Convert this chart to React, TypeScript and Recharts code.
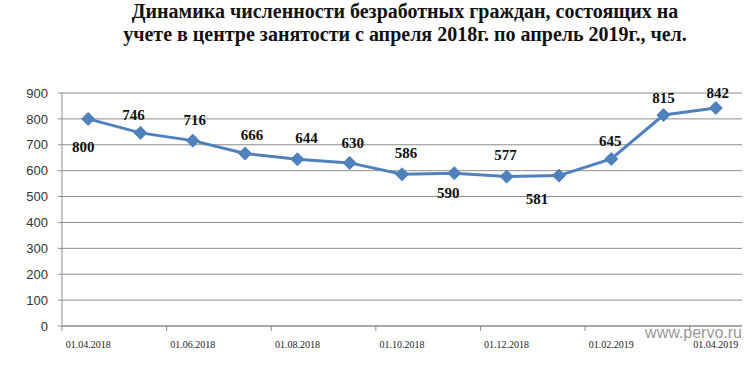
import { CartesianGrid, LabelList, Line, LineChart, XAxis, YAxis } from "recharts";

const dates = [
  "01.04.2018", "01.05.2018", "01.06.2018", "01.07.2018", "01.08.2018", "01.09.2018",
  "01.10.2018", "01.11.2018", "01.12.2018", "01.01.2019", "01.02.2019", "01.03.2019",
  "01.04.2019",
];
const unemployed = [800, 746, 716, 666, 644, 630, 586, 590, 577, 581, 645, 815, 842];
const yTicks = [0, 100, 200, 300, 400, 500, 600, 700, 800, 900];

// where each value label sits relative to its point
const labelShift: [number, number][] = [
  [-5, 28], [-7, -18], [2, -21], [7, -19], [9, -22], [3, -20], [4, -22],
  [-6, 19], [-1, -22], [-22, 23], [-1, -18], [0, -17], [2, -15],
];

const data = dates.map((d, i) => ({ date: d, value: unemployed[i] }));

const BLUE = "#4f81bd";
const GRID = "#8c8c8c";
const HALF_BAND = 26.15;

const Diamond = (props: any) => {
  const { cx, cy } = props;
  const r = 6.5;
  return (
    <polygon
      points={`${cx},${cy - r} ${cx + r},${cy} ${cx},${cy + r} ${cx - r},${cy}`}
      fill={BLUE}
      stroke={BLUE}
    />
  );
};

const DateTick = (props: any) => {
  const { x, y, payload } = props;
  return (
    <g>
      <line x1={x - HALF_BAND} x2={x - HALF_BAND} y1={y} y2={y + 5} stroke={GRID} />
      <text
        x={x}
        y={y + 22}
        textAnchor="middle"
        fontFamily="'Liberation Serif', serif"
        fontSize={10}
        fill="#222"
      >
        {payload.value}
      </text>
    </g>
  );
};

const ValueLabel = (props: any) => {
  const { x, y, value, index } = props;
  const [dx, dy] = labelShift[index] ?? [0, -18];
  return (
    <text
      x={x + dx}
      y={y + dy}
      dy="0.35em"
      textAnchor="middle"
      fontFamily="'Liberation Serif', serif"
      fontWeight="bold"
      fontSize={15}
      fill="#111"
    >
      {value}
    </text>
  );
};

export default function App() {
  return (
    <div
      style={{
        position: "absolute",
        left: 0,
        top: 0,
        width: 752,
        height: 382,
        background: "#fff",
      }}
    >
      <div
        style={{
          position: "absolute",
          left: 0,
          top: 0,
          width: 810,
          textAlign: "center",
          fontFamily: "'Liberation Serif', serif",
          fontWeight: "bold",
          fontSize: 20,
          lineHeight: "23px",
          color: "#111",
        }}
      >
        Динамика численности безработных граждан, состоящих на
        <br />
        учете в центре занятости с апреля 2018г. по апрель 2019г., чел.
      </div>
      <LineChart
        width={752}
        height={382}
        data={data}
        margin={{ top: 93, right: 10, bottom: 26, left: 12 }}
      >
        <CartesianGrid vertical={false} stroke={GRID} />
        <XAxis
          dataKey="date"
          interval={1}
          padding={{ left: HALF_BAND, right: HALF_BAND }}
          axisLine={{ stroke: GRID }}
          tickLine={false}
          tickSize={0}
          tickMargin={0}
          height={30}
          tick={<DateTick />}
        />
        <YAxis
          domain={[0, 900]}
          ticks={yTicks}
          width={50}
          axisLine={{ stroke: GRID }}
          tickLine={{ stroke: GRID }}
          tickSize={4}
          tickMargin={10}
          tick={{ fontSize: 13, fill: "#333", fontFamily: "'Liberation Sans', sans-serif" }}
        />
        <Line
          dataKey="value"
          stroke={BLUE}
          strokeWidth={3}
          dot={<Diamond />}
          activeDot={false}
          isAnimationActive={false}
        >
          <LabelList dataKey="value" content={<ValueLabel />} />
        </Line>
      </LineChart>
      <div
        style={{
          position: "absolute",
          right: 10,
          top: 324,
          fontFamily: "'Liberation Sans', sans-serif",
          fontSize: 16,
          color: "#9a9a9a",
        }}
      >
        www.pervo.ru
      </div>
    </div>
  );
}
